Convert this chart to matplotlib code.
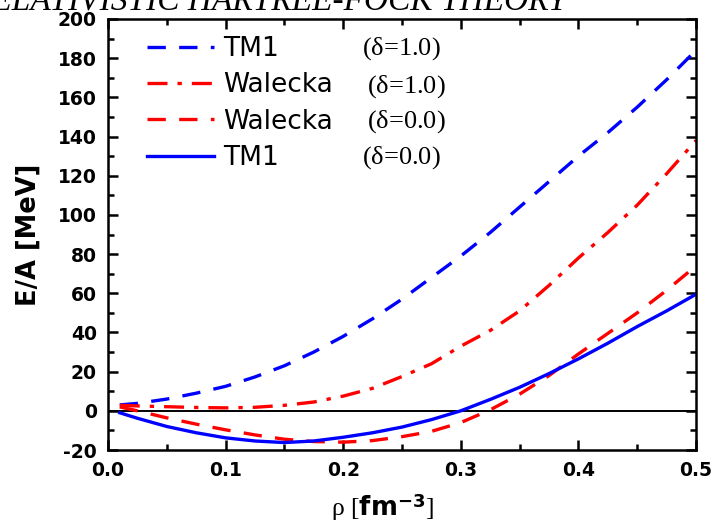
import numpy as np
import matplotlib
matplotlib.use('Agg')
import matplotlib.pyplot as plt

plt.rcParams['axes.unicode_minus'] = False
plt.rcParams['mathtext.fontset'] = 'custom'
plt.rcParams['mathtext.rm'] = 'Liberation Serif'
plt.rcParams['mathtext.it'] = 'Liberation Serif:italic'
plt.rcParams['mathtext.bf'] = 'DejaVu Sans:bold'

# density grid [fm^-3]
rho = [0.01, 0.025, 0.05, 0.075, 0.1, 0.125, 0.15, 0.175, 0.2, 0.225, 0.25,
       0.275, 0.3, 0.325, 0.35, 0.375, 0.4, 0.425, 0.45, 0.475, 0.5]

# E/A [MeV]
tm1_d1 = [3, 3.8, 6, 9, 12.5, 17.3, 23, 30, 38, 47, 57,
          68, 79, 91, 104, 117, 130, 142, 155, 169, 184]
wal_d1 = [2.8, 2.5, 2.1, 1.7, 1.5, 1.8, 2.8, 4.5, 7.5, 11.5, 17.5,
          24, 33, 41, 51, 64, 78, 91, 105, 121, 138]
wal_d0 = [2, 0, -3.6, -6.8, -9.7, -12.3, -14.5, -15.7, -16, -15.2, -13.2,
          -10.5, -6, 0.5, 8.5, 18, 29, 39.5, 50, 61.5, 74]
tm1_d0 = [-1, -3.8, -8, -11.2, -13.8, -15.4, -16.2, -15.4, -13.5, -11.2, -8.3,
          -4.5, 0, 5.8, 12, 19, 26.5, 34.5, 43, 51, 59.5]

labels = ['TM1', 'Walecka', 'Walecka', 'TM1']
deltas = [r'($\mathrm{\delta}$=1.0)', r'($\mathrm{\delta}$=1.0)',
          r'($\mathrm{\delta}$=0.0)', r'($\mathrm{\delta}$=0.0)']

W, H = 715, 528
fig = plt.figure(figsize=(W / 100, H / 100), dpi=100)
ax = fig.add_axes([108 / W, 1 - 450 / H, 588 / W, 431 / H])

ax.axhline(0, color='black', lw=1.4, zorder=1)

h1, = ax.plot(rho, tm1_d1, color='blue', lw=2.4, dashes=(5.5, 4), label=labels[0])
h2, = ax.plot(rho, wal_d1, color='red', lw=2.4, dashes=(6, 3, 1.3, 3), label=labels[1])
h3, = ax.plot(rho, wal_d0, color='red', lw=2.4, dashes=(5.5, 4), label=labels[2])
h4, = ax.plot(rho, tm1_d0, color='blue', lw=2.4, label=labels[3])

ax.set_xlim(0, 0.5)
ax.set_ylim(-20, 200)
ax.set_xticks(np.arange(0, 0.51, 0.1))
ax.set_xticks(np.arange(0, 0.51, 0.05), minor=True)
ax.set_yticks(np.arange(-20, 201, 20))
ax.set_yticks(np.arange(-20, 201, 10), minor=True)
ax.set_xticklabels(['0.0', '0.1', '0.2', '0.3', '0.4', '0.5'])
ax.tick_params(which='both', direction='in', top=True, right=True, width=1.8)
ax.tick_params(which='major', length=7, pad=8)
ax.tick_params(which='minor', length=4)
for lab in ax.get_xticklabels() + ax.get_yticklabels():
    lab.set_fontfamily('DejaVu Sans')
    lab.set_fontweight('bold')
    lab.set_fontsize(13.5)
for sp in ax.spines.values():
    sp.set_linewidth(1.8)

ax.set_ylabel('E/A [MeV]', fontsize=18.5, fontweight='bold', fontfamily='DejaVu Sans')
ax.yaxis.set_label_coords((42 - 108) / 588, 0.5)
ax.set_xlabel(r'$\mathrm{\rho}$ [$\mathbf{fm}^{\mathbf{-3}}$]', fontsize=18.5,
              fontfamily='Liberation Serif')
ax.xaxis.set_label_coords((382 - 108) / 588, (450 - 492) / 431)

leg = ax.legend(handles=[h1, h2, h3, h4], loc='upper left',
                bbox_to_anchor=((147 - 108) / 588, (450 - 36) / 431),
                frameon=False, borderpad=0, borderaxespad=0,
                handlelength=2.55, handletextpad=0.35, labelspacing=0.39,
                prop={'family': 'DejaVu Sans', 'size': 19})

rows_y = [49, 87, 122, 158]
rows_x = [362, 367, 367, 362]
for d, px, py in zip(deltas, rows_x, rows_y):
    ax.text((px - 108) / 588, (450 - py) / 431, d, transform=ax.transAxes,
            fontsize=19, fontfamily='Liberation Serif', va='center', ha='left')

fig.text(567 / W, 1 - 9 / H, 'RELATIVISTIC HARTREE-FOCK THEORY',
         fontsize=24, fontstyle='italic', fontfamily='Liberation Serif',
         ha='right', va='baseline')

fig.savefig('out.png', dpi=100)
